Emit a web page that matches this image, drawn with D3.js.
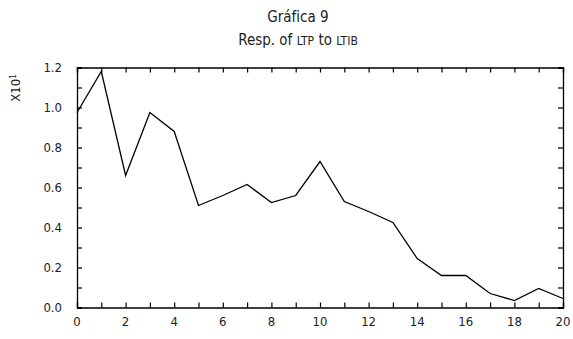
<!DOCTYPE html>
<html lang="es">
<head>
    <meta charset="UTF-8">
    <title>Gráfica 9</title>
    <script src="https://d3js.org/d3.v7.min.js"></script>
    <style>
        body { margin: 0; background: #fff; }
        svg text { font-family: "Liberation Sans Narrow", "DejaVu Sans Condensed", sans-serif; fill: #222; }
    </style>
</head>
<body>
    <div id="chart"></div>
    <script>
        // data
        const xValues = d3.range(0, 21);
        const respValues = [0.975, 1.18, 0.66, 0.975, 0.88, 0.51, 0.56, 0.615, 0.525, 0.56, 0.73,
                            0.53, 0.48, 0.425, 0.245, 0.16, 0.16, 0.07, 0.035, 0.095, 0.045];
        const yTickLabels = [0, 0.2, 0.4, 0.6, 0.8, 1.0, 1.2];
        const xTickLabels = [0, 2, 4, 6, 8, 10, 12, 14, 16, 18, 20];

        const W = 573, H = 339;
        const margin = { top: 67.5, right: 10, bottom: 31.5, left: 77 };
        const width = W - margin.left - margin.right;
        const height = H - margin.top - margin.bottom;

        const svg = d3.select("#chart").append("svg")
            .attr("width", W)
            .attr("height", H);

        const g = svg.append("g")
            .attr("transform", "translate(" + margin.left + "," + margin.top + ")");

        const xScale = d3.scaleLinear().domain([0, 20]).range([0, width]);
        const yScale = d3.scaleLinear().domain([0, 1.2]).range([height, 0]);

        // inner ticks on all four sides
        const minorY = d3.range(0, 1.21, 0.1);
        const tickLen = 5;

        g.append("g")
            .attr("transform", "translate(0," + height + ")")
            .call(d3.axisBottom(xScale).tickValues(xValues).tickSize(-tickLen).tickFormat(""));
        g.append("g")
            .call(d3.axisTop(xScale).tickValues(xValues).tickSize(-tickLen).tickFormat(""));
        g.append("g")
            .call(d3.axisLeft(yScale).tickValues(minorY).tickSize(-tickLen).tickFormat(""));
        g.append("g")
            .attr("transform", "translate(" + width + ",0)")
            .call(d3.axisRight(yScale).tickValues(minorY).tickSize(-tickLen).tickFormat(""));

        g.selectAll(".domain").attr("stroke", "#000").attr("stroke-width", 1.3);
        g.selectAll(".tick line").attr("stroke", "#000").attr("stroke-width", 1.2);

        // tick labels
        g.selectAll(".ylab").data(yTickLabels).enter().append("text")
            .attr("class", "ylab")
            .attr("x", -15)
            .attr("y", d => yScale(d))
            .attr("dy", "0.35em")
            .attr("text-anchor", "end")
            .style("font-size", "13px")
            .text(d => d.toFixed(1));

        g.selectAll(".xlab").data(xTickLabels).enter().append("text")
            .attr("class", "xlab")
            .attr("x", d => xScale(d))
            .attr("y", height + 14)
            .attr("dy", "0.35em")
            .attr("text-anchor", "middle")
            .style("font-size", "13px")
            .text(d => d);

        // the line
        const line = d3.line()
            .x((d, i) => xScale(xValues[i]))
            .y(d => yScale(d));

        g.append("path")
            .datum(respValues)
            .attr("fill", "none")
            .attr("stroke", "#000")
            .attr("stroke-width", 1.3)
            .attr("d", line);

        // titles
        svg.append("text")
            .attr("x", 298)
            .attr("y", 22)
            .attr("text-anchor", "middle")
            .style("font-size", "15px")
            .text("Gráfica 9");

        const sub = svg.append("text")
            .attr("x", 298)
            .attr("y", 45)
            .attr("text-anchor", "middle")
            .style("font-size", "15px");
        sub.append("tspan").text("Resp. of ");
        sub.append("tspan").style("font-size", "12px").text("LTP");
        sub.append("tspan").text(" to ");
        sub.append("tspan").style("font-size", "12px").text("LTIB");

        // y label X10^1
        const ylab = svg.append("text")
            .attr("transform", "translate(20,88) rotate(-90)")
            .attr("text-anchor", "middle")
            .style("font-size", "13px");
        ylab.append("tspan").text("X10");
        ylab.append("tspan").attr("dy", "-0.5em").style("font-size", "8px").text("1");
    </script>
</body>
</html>
